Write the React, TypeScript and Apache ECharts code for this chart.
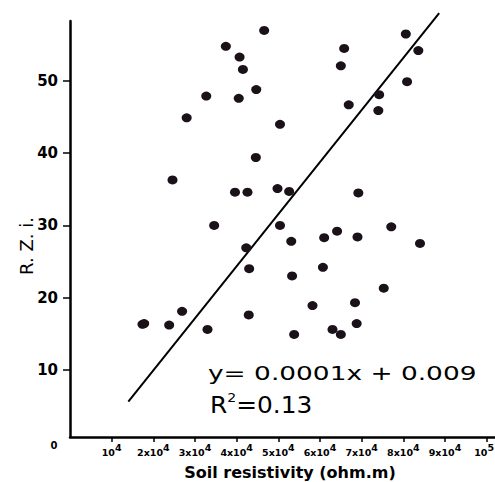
import React, { useEffect, useRef } from 'react';
import * as echarts from 'echarts';

const resistivity = [46600, 37400, 40700, 41500, 32700, 40500, 44700, 28000, 50400, 44600, 24600, 39600, 42600, 49800, 52600, 69200, 34600, 50400, 77100, 64100, 61000, 69000, 53100, 42300, 84000, 43000, 60700, 53300, 75300, 58200, 68400, 26900, 42900, 17800, 17400, 23800, 68800, 33000, 63000, 53800, 65000, 65800, 65000, 80600, 83600, 80900, 74200, 74000, 66900];
const rzi = [57.0, 54.8, 53.3, 51.6, 47.9, 47.6, 48.8, 44.9, 44.0, 39.4, 36.3, 34.6, 34.6, 35.1, 34.7, 34.5, 30.0, 30.0, 29.8, 29.2, 28.3, 28.4, 27.8, 26.9, 27.5, 24.0, 24.2, 23.0, 21.3, 18.9, 19.3, 18.1, 17.6, 16.4, 16.3, 16.2, 16.4, 15.6, 15.6, 14.9, 14.9, 54.5, 52.1, 56.5, 54.2, 49.9, 48.1, 45.9, 46.7];

const trendX = [14000, 88600];
const trendY = [5.6, 59.4];

const xTickValues = [10000, 20000, 30000, 40000, 50000, 60000, 70000, 80000, 90000, 100000];
const xLabelValues = [10000, 20000, 30000, 40000, 50000, 60000, 70000, 80000, 90000];
const xTickMantissa = ['10', '2x10', '3x10', '4x10', '5x10', '6x10', '7x10', '8x10', '9x10'];
const xTickExponent = ['4', '4', '4', '4', '4', '4', '4', '4', '4'];
const lastXLabel = { mantissa: '10', exponent: '5' };
const yTickValues = [10, 20, 30, 40, 50];

const xTitle = 'Soil resistivity (ohm.m)';
const yTitle = 'R. Z. i.';
const equationText = 'y= 0.0001x + 0.009';
const r2Value = '0.13';

export default function App() {
  const ref = useRef<HTMLDivElement>(null);
  useEffect(() => {
    if (!ref.current) return;
    const chart = echarts.init(ref.current, null, { renderer: 'svg' });
    const points = resistivity.map((x, i) => [x, rzi[i]]);
    const trend = trendX.map((x, i) => [x, trendY[i]]);
    const tickRich = {
      b: { fontSize: 9.5, fontWeight: 'bold', color: '#000', fill: '#000', fontFamily: 'DejaVu Sans' },
      s: { fontSize: 9.5, fontWeight: 'bold', color: '#000', fill: '#000', fontFamily: 'DejaVu Sans', padding: [0, 0, 11, 0] },
    };
    chart.setOption({
      animation: false,
      backgroundColor: '#ffffff',
      textStyle: { fontFamily: 'DejaVu Sans' },
      grid: { left: 70, right: 0, top: 21, bottom: 45, containLabel: false, outerBoundsMode: 'none' },
      xAxis: {
        type: 'value',
        min: 0,
        max: 102000,
        name: xTitle,
        nameLocation: 'middle',
        nameGap: 27,
        nameTextStyle: { fontSize: 16, fontWeight: 'bold', color: '#000', fontFamily: 'DejaVu Sans', padding: [0, 0, 0, 15] },
        splitLine: { show: false },
        axisLine: { lineStyle: { color: '#000', width: 2.5 } },
        axisTick: { show: true, customValues: xTickValues, length: 5, lineStyle: { color: '#000', width: 1.5 } },
        axisLabel: {
          customValues: xLabelValues,
          margin: 5,
          color: '#000',
          formatter: (v: number) => {
            const i = xLabelValues.indexOf(v);
            if (i < 0) return '';
            return `{b|${xTickMantissa[i]}}{s|${xTickExponent[i]}}`;
          },
          rich: tickRich,
        },
      },
      yAxis: {
        type: 'value',
        min: 0.7,
        max: 58.3,
        splitLine: { show: false },
        axisLine: { lineStyle: { color: '#000', width: 2.5 } },
        axisTick: { show: true, customValues: yTickValues, length: 7, lineStyle: { color: '#000', width: 1.5 } },
        axisLabel: {
          customValues: yTickValues,
          margin: 12,
          fontSize: 15,
          fontWeight: 'bold',
          color: '#000',
        },
      },
      graphic: [
        { type: 'text', x: 26, y: 246, rotation: Math.PI / 2, style: { text: yTitle, fontSize: 18, fill: '#000', fontFamily: 'DejaVu Sans', align: 'center', verticalAlign: 'middle' } },
        { type: 'text', x: 54, y: 445, style: { text: '0', fontSize: 10, fontWeight: 'bold', fill: '#000', fontFamily: 'DejaVu Sans', align: 'center', verticalAlign: 'middle' } },
        {
          type: 'text', x: 494, y: 442,
          style: {
            text: `{b|${lastXLabel.mantissa}}{s|${lastXLabel.exponent}}`,
            fill: '#000', fontFamily: 'DejaVu Sans', align: 'right', verticalAlign: 'top',
            rich: tickRich,
          },
        },
        { type: 'text', x: 208, y: 373, scaleX: 1.32, style: { text: equationText, fontSize: 20, fill: '#000', fontFamily: 'DejaVu Sans', align: 'left', verticalAlign: 'middle' } },
        {
          type: 'text', x: 210, y: 405, scaleX: 1.08,
          style: {
            text: `{a|R}{s|2}{a|=${r2Value}}`,
            fontSize: 23, fill: '#000', fontFamily: 'DejaVu Sans', align: 'left', verticalAlign: 'middle',
            rich: {
              a: { fontSize: 23, fill: '#000', fontFamily: 'DejaVu Sans' },
              s: { fontSize: 13, fill: '#000', fontFamily: 'DejaVu Sans', padding: [0, 0, 16, 0] },
            },
          },
        },
      ],
      series: [
        {
          type: 'line',
          data: trend,
          symbol: 'none',
          clip: false,
          lineStyle: { color: '#000', width: 2 },
          z: 1,
        },
        {
          type: 'scatter',
          data: points,
          symbol: 'circle',
          symbolSize: [10, 9],
          itemStyle: { color: '#1b1119', opacity: 1 },
          z: 2,
        },
      ],
    });
    return () => chart.dispose();
  }, []);
  return <div ref={ref} style={{ position: 'absolute', left: 0, top: 0, width: 495, height: 482 }} />;
}
